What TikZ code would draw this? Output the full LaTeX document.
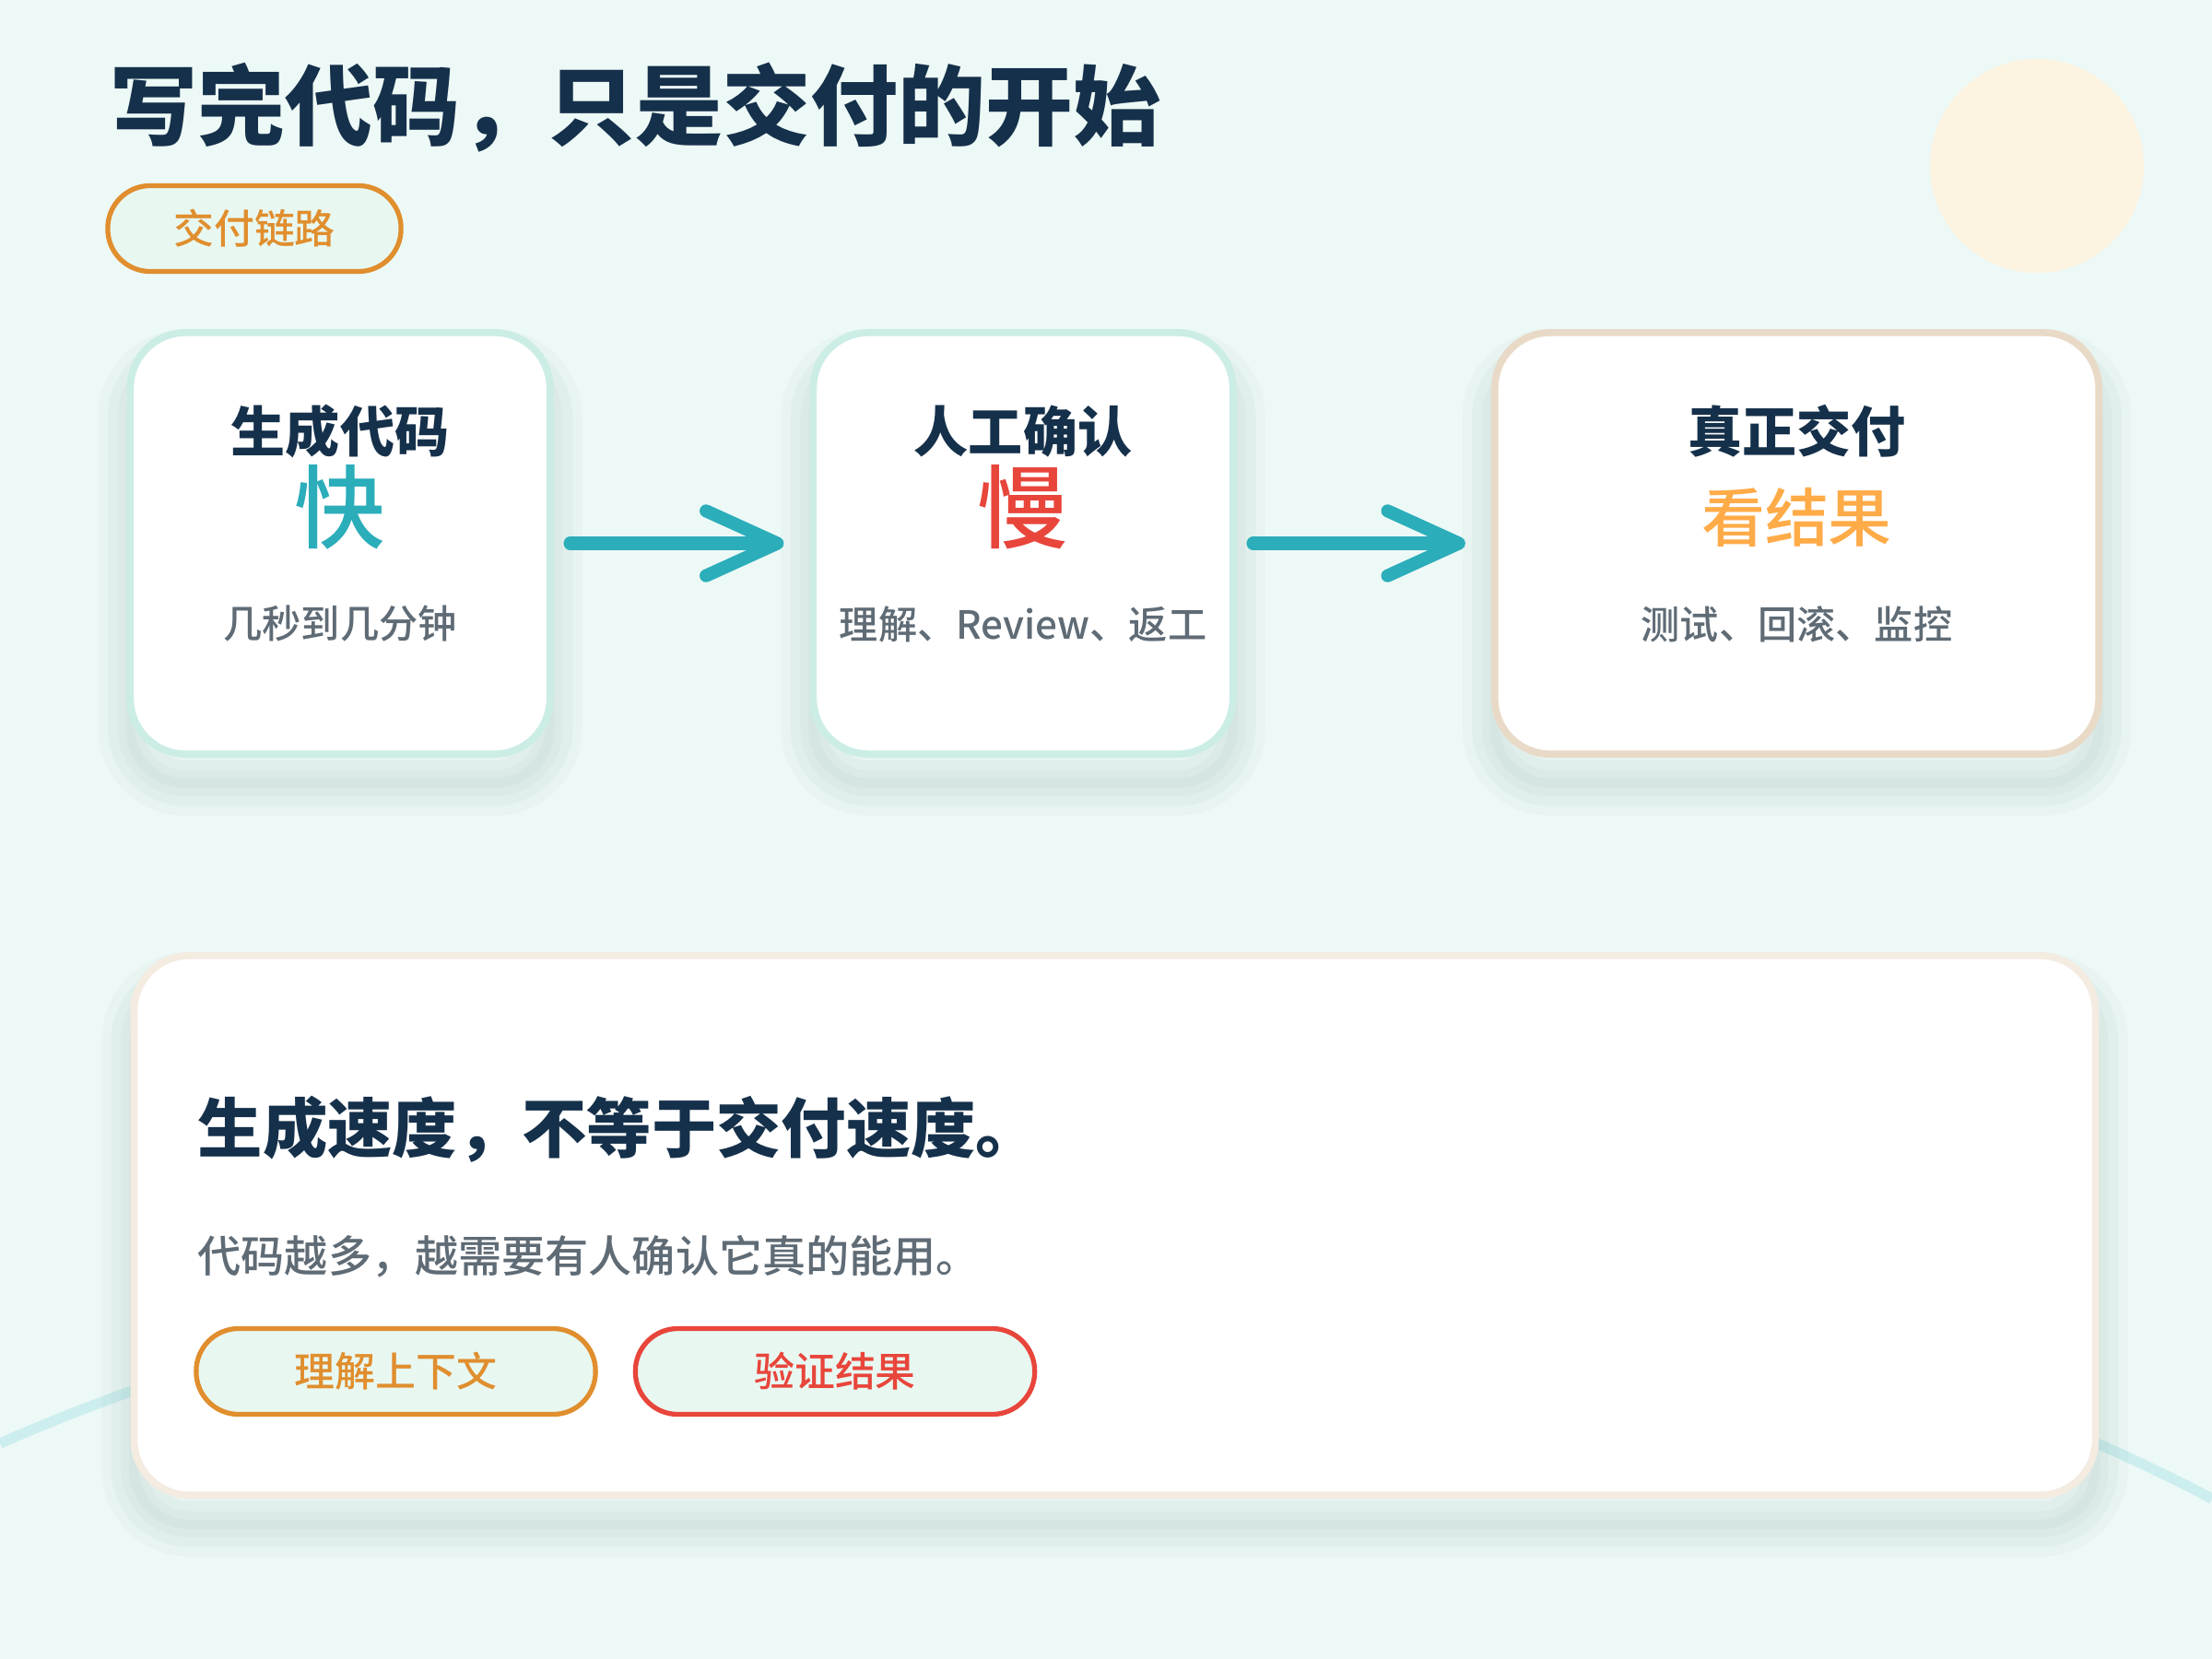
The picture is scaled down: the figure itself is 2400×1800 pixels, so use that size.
\documentclass[tikz,border=0pt]{standalone}
\usepackage{fontspec}
\setmainfont{Noto Sans CJK SC}
\newfontfamily\midfont{Noto Sans CJK SC Medium}
\usetikzlibrary{arrows.meta}
\definecolor{bgmint}{HTML}{EDF9F6}
\definecolor{navy}{HTML}{15304A}
\definecolor{slate}{HTML}{5F6B75}
\definecolor{tealfast}{HTML}{2BADBA}
\definecolor{redslow}{HTML}{E8453B}
\definecolor{amber}{HTML}{FFAB48}
\definecolor{ochre}{HTML}{E08E2E}
\definecolor{mintline}{HTML}{CBEDE6}
\definecolor{sandline}{HTML}{E9DAC7}
\definecolor{creamline}{HTML}{F4EBE1}
\definecolor{pillfill}{HTML}{E8F8F1}
\definecolor{sunglow}{HTML}{FCF3E1}
\definecolor{wave}{HTML}{CDEEEE}
\definecolor{haze}{HTML}{2F6B66}
\tikzset{
    haze layer/.style={preaction={draw=haze, line width=#1, draw opacity=0.03, transform canvas={yshift=-9pt}}},
    card/.style={draw=#1, fill=white, line width=2.2pt, rounded corners=0.6cm, line join=round,
        haze layer=3pt, haze layer=8pt, haze layer=14pt, haze layer=20pt},
    pill/.style={draw=#1, text=#1, fill=pillfill, line width=1.5pt, rounded corners=0.46cm,
        minimum height=0.93cm, font=\midfont\fontsize{12.5}{15}\selectfont},
    cardhead/.style={inner sep=0pt, text=navy, font=\bfseries\fontsize{16.8}{20}\selectfont},
    cardword/.style={inner sep=0pt, text=#1, font=\midfont\fontsize{28}{32}\selectfont},
    cardnote/.style={inner sep=0pt, text=slate, font=\midfont\fontsize{12}{14}\selectfont},
    flow/.style={draw=tealfast, line width=4pt, line cap=round, shorten <=0.18cm, shorten >=0.28cm,
        -{Straight Barb[length=22pt,width=20pt,round]}}
}
\begin{document}
\begin{tikzpicture}[x=0.01cm, y=-0.01cm]
        \useasboundingbox (0,0) rectangle (2400,1800);
        \fill[bgmint] (0,0) rectangle (2400,1800);
        \fill[sunglow] (2210,180) circle (1.16cm);
        \draw[wave, line width=3.2pt] (0,1566) .. controls (700,1260) and (1700,1260) .. (2400,1626);

        \node[anchor=west, inner sep=0pt, text=navy, font=\bfseries\fontsize{27}{32}\selectfont] (title) at (119,117) {写完代码，只是交付的开始};
        \node[pill=ochre, minimum width=3.18cm] (chain) at (276,248) {交付链路};

        \node[card=mintline, minimum width=4.55cm, minimum height=4.57cm] (gen) at (369,589.5) {};
        \node[card=mintline, minimum width=4.55cm, minimum height=4.57cm] (ver) at (1110,589.5) {};
        \node[card=sandline, minimum width=6.55cm, minimum height=4.57cm] (ship) at (1949.5,589.5) {};

        \node[cardhead] (genhead) at (369,468) {生成代码};
        \node[cardword=tealfast] (genword) at (369,550) {快};
        \node[cardnote] (gennote) at (369,677) {几秒到几分钟};

        \node[cardhead] (verhead) at (1110,468) {人工确认};
        \node[cardword=redslow] (verword) at (1110,550) {慢};
        \node[cardnote] (vernote) at (1110,677) {理解、Review、返工};

        \node[cardhead] (shiphead) at (1949.5,468) {真正交付};
        \node[inner sep=0pt, text=amber, font=\midfont\fontsize{19.6}{24}\selectfont] (shipword) at (1949.5,561) {看结果};
        \node[cardnote] (shipnote) at (1949.5,677) {测试、回滚、监控};

        \draw[flow] (gen) -- (ver);
        \draw[flow] (ver) -- (ship);

        \node[card=creamline, minimum width=21.27cm, minimum height=5.85cm] (note) at (1209.5,1329.5) {};
        \node[anchor=west, inner sep=0pt, text=navy, font=\bfseries\fontsize{20}{24}\selectfont] (claim) at (214,1225) {生成速度，不等于交付速度。};
        \node[anchor=west, inner sep=0pt, text=slate, font=\midfont\fontsize{13.4}{16}\selectfont] (reason) at (214,1363) {代码越多，越需要有人确认它真的能用。};
        \node[pill=ochre, minimum width=4.33cm] (context) at (429.5,1488) {理解上下文};
        \node[pill=redslow, minimum width=4.33cm] (check) at (906,1488) {验证结果};
\end{tikzpicture}
\end{document}
